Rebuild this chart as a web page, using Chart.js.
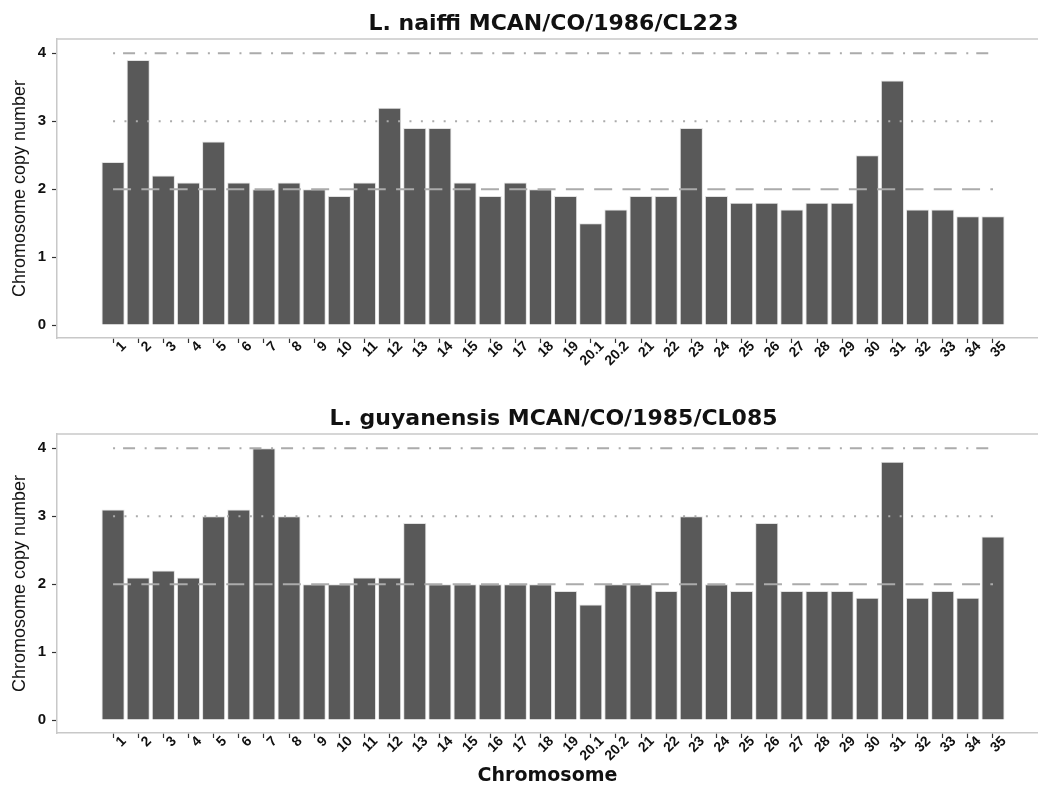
<!DOCTYPE html>
<html lang="en">
<head>
  <meta charset="UTF-8">
  <title>Chromosome copy number</title>
  <script src="https://cdn.jsdelivr.net/npm/chart.js"></script>
  <style>
    body {
      margin: 0;
      background: #fff;
      width: 1038px;
      height: 787px;
      overflow: hidden;
      position: relative;
    }
    canvas { position: absolute; left: 0; }
    #topChart { top: 0; }
    #bottomChart { top: 395px; }
  </style>
</head>
<body>
  <canvas id="topChart" width="1038" height="380"></canvas>
  <canvas id="bottomChart" width="1038" height="392"></canvas>

  <script>
    // chromosome labels (20 is split in two)
    const chromosomes = ['1', '2', '3', '4', '5', '6', '7', '8', '9', '10',
      '11', '12', '13', '14', '15', '16', '17', '18', '19', '20.1', '20.2',
      '21', '22', '23', '24', '25', '26', '27', '28', '29', '30',
      '31', '32', '33', '34', '35'];

    const naiffiCopies = [2.4, 3.9, 2.2, 2.1, 2.7, 2.1, 2.0, 2.1, 2.0, 1.9,
      2.1, 3.2, 2.9, 2.9, 2.1, 1.9, 2.1, 2.0, 1.9, 1.5, 1.7,
      1.9, 1.9, 2.9, 1.9, 1.8, 1.8, 1.7, 1.8, 1.8, 2.5,
      3.6, 1.7, 1.7, 1.6, 1.6];

    const guyanensisCopies = [3.1, 2.1, 2.2, 2.1, 3.0, 3.1, 4.0, 3.0, 2.0, 2.0,
      2.1, 2.1, 2.9, 2.0, 2.0, 2.0, 2.0, 2.0, 1.9, 1.7, 2.0,
      2.0, 1.9, 3.0, 2.0, 1.9, 2.9, 1.9, 1.9, 1.9, 1.8,
      3.8, 1.8, 1.9, 1.8, 2.7];

    const yTicks = [0, 1, 2, 3, 4];
    // ploidy reference lines
    const refLevels = [4, 3, 2];

    // line styles for the reference levels (dotdash, dotted, dashed)
    const refDash = { 4: [2, 8, 12, 9.6], 3: [2, 9.4], 2: [18, 10.3] };

    const panelTitle = {
      id: 'panelTitle',
      afterDraw(chart, args, opts) {
        const { ctx, chartArea } = chart;
        ctx.save();
        // top edge of the panel box
        ctx.strokeStyle = '#c8c8c8';
        ctx.lineWidth = 1.5;
        ctx.beginPath();
        ctx.moveTo(chartArea.left, chartArea.top);
        ctx.lineTo(chartArea.right, chartArea.top);
        ctx.stroke();
        ctx.font = 'bold 22px "DejaVu Sans"';
        ctx.fillStyle = '#111';
        ctx.textAlign = 'center';
        ctx.textBaseline = 'middle';
        ctx.fillText(opts.text, (chartArea.left + chartArea.right) / 2 + 6, 24);
        ctx.restore();
      }
    };

    function makeChart(id, title, values, showXTitle) {
      const canvas = document.getElementById(id);
      const xHeight = canvas.height - 338;

      const datasets = refLevels.map(level => ({
        type: 'line',
        data: [{ x: 0, y: level }, { x: chromosomes.length - 1, y: level }],
        borderColor: '#ababab',
        borderWidth: 2,
        borderDash: refDash[level],
        pointRadius: 0,
        order: 0
      }));
      datasets.push({
        type: 'bar',
        data: values.map((v, i) => ({ x: i, y: v })),
        backgroundColor: '#595959',
        borderColor: '#e2e2e2',
        borderWidth: 1,
        barPercentage: 0.92,
        categoryPercentage: 1,
        order: 1
      });

      return new Chart(canvas, {
        type: 'bar',
        data: { datasets },
        plugins: [panelTitle],
        options: {
          responsive: false,
          animation: false,
          layout: { padding: { top: 39, left: 0, right: 0, bottom: 0 } },
          plugins: {
            legend: { display: false },
            tooltip: { enabled: false },
            panelTitle: { text: title }
          },
          scales: {
            x: {
              type: 'linear',
              offset: false,
              min: -2.23,
              max: 36.79,
              afterBuildTicks: scale => {
                scale.ticks = chromosomes.map((_, i) => ({ value: i }));
              },
              afterFit: scale => { scale.height = xHeight; },
              border: { display: true, color: '#c8c8c8', width: 1.5 },
              grid: {
                display: true,
                offset: false,
                drawOnChartArea: false,
                drawTicks: true,
                tickLength: 5,
                tickColor: '#333',
                tickWidth: 1.2
              },
              ticks: {
                autoSkip: false,
                minRotation: 45,
                maxRotation: 45,
                padding: -5,
                labelOffset: 11,
                color: '#111',
                font: { family: '"Liberation Sans", Arial', size: 14, weight: 'bold' },
                callback: value => chromosomes[value]
              },
              title: {
                display: showXTitle,
                text: 'Chromosome',
                color: '#111',
                font: { family: '"DejaVu Sans"', size: 19, weight: 'bold' },
                padding: { top: 0, bottom: 0 }
              }
            },
            y: {
              min: -0.19,
              max: 4.21,
              afterBuildTicks: scale => {
                scale.ticks = yTicks.map(v => ({ value: v }));
              },
              afterFit: scale => { scale.width = 57; },
              border: { display: true, color: '#c8c8c8', width: 1.5 },
              grid: {
                display: true,
                drawOnChartArea: false,
                drawTicks: true,
                tickLength: 5,
                tickColor: '#333',
                tickWidth: 1.2
              },
              ticks: {
                padding: 6,
                color: '#111',
                font: { family: '"Liberation Sans", Arial', size: 15, weight: 'bold' }
              },
              title: {
                display: true,
                text: 'Chromosome copy number',
                color: '#111',
                font: { family: '"Liberation Sans", Arial', size: 18 },
                padding: { top: 9, bottom: 0 }
              }
            }
          }
        }
      });
    }

    makeChart('topChart', 'L. naiffi MCAN/CO/1986/CL223', naiffiCopies, false);
    makeChart('bottomChart', 'L. guyanensis MCAN/CO/1985/CL085', guyanensisCopies, true);
  </script>
</body>
</html>
